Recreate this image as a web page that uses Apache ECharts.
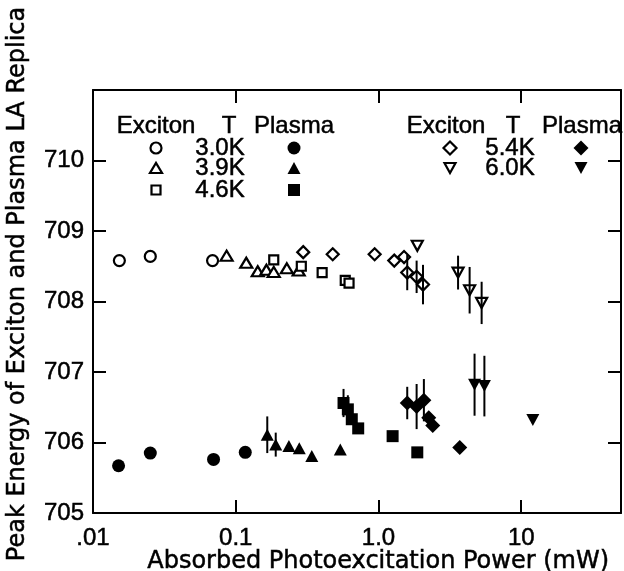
<!DOCTYPE html>
<html><head><meta charset="utf-8">
<script src="https://cdn.jsdelivr.net/npm/echarts@6/dist/echarts.min.js"></script>
<style>html,body{margin:0;padding:0;background:#fff}#c{width:624px;height:571px}</style>
</head><body><div id="c"></div>
<script>
const FONT = 'DejaVu Sans';
const FONT2 = 'Liberation Sans';
const xTickValues = [0.01, 0.1, 1, 10];
const xTickLabels = ['.01', '0.1', '1.0', '10'];
const yTickValues = [705, 706, 707, 708, 709, 710];
const yTickLabels = ['705', '706', '707', '708', '709', '710'];
const xTitle = 'Absorbed Photoexcitation Power (mW)';
const yTitle = 'Peak Energy of Exciton and Plasma LA Replica';

// [power mW, peak energy]
const exciton30 = [[0.0153, 708.58], [0.0252, 708.64], [0.0688, 708.58]];
const plasma30 = [[0.0151, 705.67], [0.0252, 705.85], [0.0699, 705.76], [0.1166, 705.86]];
const exciton39 = [[0.0863, 708.65], [0.1185, 708.55], [0.1426, 708.43], [0.164, 708.45], [0.1846, 708.42], [0.228, 708.47], [0.276, 708.44]];
const plasma39 = [[0.1663, 706.11], [0.1906, 705.97], [0.2357, 705.95], [0.2787, 705.92], [0.341, 705.81], [0.540, 705.90]];
const plasma39Err = [0.26, 0.17, null, null, null, null];
const exciton46 = [[0.1846, 708.59], [0.288, 708.50], [0.403, 708.41], [0.585, 708.30], [0.622, 708.26]];
const plasma46 = [[0.569, 706.56], [0.61, 706.47], [0.65, 706.33], [0.721, 706.20], [1.256, 706.09], [1.87, 705.86]];
const plasma46Err = [0.2, 0.2, null, null, null, null];
const exciton54 = [[0.297, 708.70], [0.478, 708.67], [0.94, 708.67], [1.29, 708.58], [1.51, 708.63], [1.59, 708.41], [1.85, 708.35], [2.05, 708.24]];
const exciton54Err = [null, null, null, null, null, 0.25, 0.23, 0.28];
const plasma54 = [[1.59, 706.56], [1.85, 706.51], [2.08, 706.60], [2.25, 706.35], [2.40, 706.24], [3.71, 705.93]];
const plasma54Err = [0.23, 0.32, 0.30, null, null, null];
const exciton60 = [[1.87, 708.79], [3.61, 708.41], [4.35, 708.16], [5.28, 707.98]];
const exciton60Err = [null, 0.24, 0.33, 0.30];
const plasma60 = [[4.71, 706.82], [5.52, 706.80], [12.06, 706.32]];
const plasma60Err = [0.44, 0.43, null];

const legendTemps = ['3.0K', '3.9K', '4.6K', '5.4K', '6.0K'];

function errData(pts, errs) {
  const out = [];
  pts.forEach((p, i) => { if (errs[i] != null) out.push([p[0], p[1] - errs[i], p[1] + errs[i]]); });
  return out;
}
const errorBars = [].concat(
  errData(plasma39, plasma39Err), errData(plasma46, plasma46Err),
  errData(exciton54, exciton54Err), errData(plasma54, plasma54Err),
  errData(exciton60, exciton60Err), errData(plasma60, plasma60Err)
);

function xfmt(v) {
  for (let i = 0; i < xTickValues.length; i++) {
    if (Math.abs(Math.log10(v) - Math.log10(xTickValues[i])) < 1e-6) return xTickLabels[i];
  }
  return '';
}
function yfmt(v) {
  const i = yTickValues.indexOf(Math.round(v));
  return (i >= 0 && Math.abs(v - yTickValues[i]) < 1e-6) ? yTickLabels[i] : '';
}

const lineStyle = { color: '#000', width: 2 };
const tick = { show: true, inside: true, length: 13, lineStyle: { color: '#000', width: 2 } };
const xBase = { type: 'log', logBase: 10, min: 0.01, max: 50, axisLine: { show: true, lineStyle }, axisTick: tick, splitLine: { show: false }, minorTick: { show: false } };
const yBase = { type: 'value', min: 705, max: 711, interval: 1, axisLine: { show: true, onZero: false, lineStyle }, axisTick: tick, splitLine: { show: false } };

const openStyle = { color: '#fff', borderColor: '#000', borderWidth: 2.2, opacity: 1 };
const fillStyle = { color: '#000', borderColor: '#000', borderWidth: 0, opacity: 1 };
function sc(data, symbol, size, style, rotate) {
  return { type: 'scatter', data, symbol, symbolSize: size, symbolRotate: rotate || 0, itemStyle: style, emphasis: { disabled: true }, z: 3 };
}

const STROKE = 0.5;
const labelFont = { fontFamily: FONT2, fontSize: 24, color: '#000', textBorderColor: '#000', textBorderWidth: STROKE };
function txt(s, x, y, align, size, fam) {
  return { type: 'text', x, y, style: { text: s, font: (size || 24) + 'px "' + (fam || FONT2) + '"', fill: '#000', stroke: '#000', lineWidth: STROKE, textAlign: align || 'center', textVerticalAlign: 'middle' } };
}
function circ(x, y, r, filled) { return { type: 'circle', shape: { cx: x, cy: y, r }, style: { fill: filled ? '#000' : '#fff', stroke: '#000', lineWidth: filled ? 0 : 2.2 } }; }
function tri(x, y, w, h, filled, down) {
  const pts = down ? [[x - w / 2, y - h / 2], [x + w / 2, y - h / 2], [x, y + h / 2]] : [[x - w / 2, y + h / 2], [x + w / 2, y + h / 2], [x, y - h / 2]];
  return { type: 'polygon', shape: { points: pts }, style: { fill: filled ? '#000' : '#fff', stroke: '#000', lineWidth: filled ? 0 : 2.2 } };
}
function sq(x, y, s, filled) { return { type: 'rect', shape: { x: x - s / 2, y: y - s / 2, width: s, height: s }, style: { fill: filled ? '#000' : '#fff', stroke: '#000', lineWidth: filled ? 0 : 2.2 } }; }
function dia(x, y, s, filled) { return { type: 'polygon', shape: { points: [[x, y - s / 2], [x + s / 2, y], [x, y + s / 2], [x - s / 2, y]] }, style: { fill: filled ? '#000' : '#fff', stroke: '#000', lineWidth: filled ? 0 : 2.2 } }; }

const r1 = 148, r2 = 168, r3 = 190, hy = 126;
const graphics = [
  txt('Exciton', 156, hy), txt('T', 229, hy), txt('Plasma', 294, hy),
  circ(156, r1, 5.5, false), txt(legendTemps[0], 220, r1), circ(294, r1, 6.5, true),
  tri(156, r2, 12, 10, false, false), txt(legendTemps[1], 220, r2), tri(294, r2, 13, 12, true, false),
  sq(156, r3, 9, false), txt(legendTemps[2], 220, r3), sq(294, r3, 12, true),
  txt('Exciton', 446, hy), txt('T', 513, hy), txt('Plasma', 582, hy),
  dia(450, r1, 13, false), txt(legendTemps[3], 510, r1), dia(581, r1, 15, true),
  tri(450, r2, 11, 10, false, true), txt(legendTemps[4], 510, r2), tri(581, r2, 13, 12, true, true),
  txt(xTitle, 609, 562, 'right', 24, FONT),
  Object.assign(txt(yTitle, 0, 0, 'center', 24, FONT), { x: 18, y: 284, rotation: Math.PI / 2 })
];

const chart = echarts.init(document.getElementById('c'), null, { renderer: 'canvas' });
chart.setOption({
  animation: false,
  backgroundColor: '#fff',
  grid: { left: 93, top: 90, right: -7, bottom: 58, containLabel: false },
  xAxis: [
    Object.assign({}, xBase, { position: 'bottom', axisLabel: Object.assign({ margin: 13, formatter: xfmt, showMinLabel: true, showMaxLabel: true }, labelFont) }),
    Object.assign({}, xBase, { position: 'top', axisLabel: { show: false } })
  ],
  yAxis: [
    Object.assign({}, yBase, { position: 'left', axisLabel: Object.assign({ margin: 9, formatter: yfmt, showMinLabel: true }, labelFont) }),
    Object.assign({}, yBase, { position: 'right', axisLabel: { show: false } })
  ],
  series: [
    sc(exciton30, 'circle', 11, openStyle),
    sc(plasma30, 'circle', 13, fillStyle),
    sc(exciton39, 'triangle', [12, 10], openStyle),
    sc(plasma39, 'triangle', [13, 12], fillStyle),
    sc(exciton46, 'rect', 9, openStyle),
    sc(plasma46, 'rect', 12, fillStyle),
    sc(exciton54, 'diamond', 12, openStyle),
    sc(plasma54, 'diamond', 15, fillStyle),
    sc(exciton60, 'triangle', [11, 10], openStyle, 180),
    sc(plasma60, 'triangle', [13, 12], fillStyle, 180),
    {
      type: 'custom', data: errorBars, z: 4, silent: true,
      renderItem: function (params, api) {
        const a = api.coord([api.value(0), api.value(1)]);
        const b = api.coord([api.value(0), api.value(2)]);
        return { type: 'line', shape: { x1: a[0], y1: a[1], x2: b[0], y2: b[1] }, style: { stroke: '#000', lineWidth: 2 } };
      },
      encode: { x: 0, y: [1, 2] }
    }
  ],
  graphic: graphics
});
</script>
</body></html>
